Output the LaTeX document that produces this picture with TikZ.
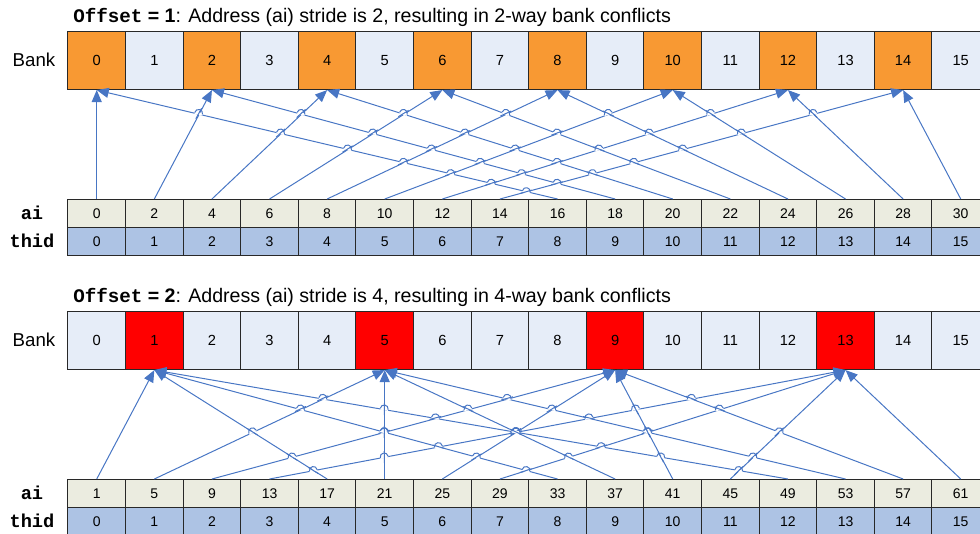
\documentclass[tikz,border=0pt]{standalone}
\usepackage{fontspec}
\setmainfont{Liberation Sans}
\setmonofont{Liberation Mono}
\usetikzlibrary{calc,arrows.meta}
\definecolor{orng}{RGB}{248,153,51}
\definecolor{lblue}{RGB}{230,237,248}
\definecolor{aigray}{RGB}{235,236,224}
\definecolor{thblue}{RGB}{173,195,228}
\definecolor{arrblue}{RGB}{72,118,196}
\definecolor{bordr}{RGB}{40,40,40}
\newcommand{\offsetword}{{\fontsize{14.4}{16}\selectfont\ttfamily\bfseries Offset}}
\begin{document}
\begin{tikzpicture}[x=0.75pt,y=-0.75pt,
  cell/.style={draw=bordr, line width=0.8pt, inner sep=0pt, minimum width=43.2pt, anchor=north west},
  bankcell/.style={cell, minimum height=43.5pt, fill=lblue, font=\fontsize{11}{13}\selectfont},
  aicell/.style={cell, minimum height=21pt, fill=aigray, font=\fontsize{10.5}{12}\selectfont},
  thcell/.style={aicell, fill=thblue},
  rowlabel/.style={font=\fontsize{14}{16}\selectfont\ttfamily\bfseries, inner sep=0pt},
  banklabel/.style={font=\fontsize{14}{16}\selectfont, inner sep=0pt},
  titletext/.style={anchor=base west, inner sep=0pt, font=\fontsize{14.7}{16}\selectfont},
  conn/.style={draw=arrblue, line width=0.75pt},
  arr/.style={conn, -{Triangle[length=9pt,width=7.5pt]}},
  eraser/.style={draw=white, line width=1.8pt}
]
\useasboundingbox (0,0) rectangle (980,533);

% titles
\node[titletext] (title1) at (73,22) {\offsetword\textbf{ = 1}: Address (ai) stride is 2, resulting in 2-way bank conflicts};
\node[titletext] (title2) at (73,302) {\offsetword\textbf{ = 2}: Address (ai) stride is 4, resulting in 4-way bank conflicts};

\foreach \p/\yoff/\mm/\cc/\hc in {1/0/2/0/orng, 2/280/4/1/red} {
  \node[banklabel] (bank\p) at (34,60+\yoff) {Bank};
  \node[rowlabel] (ailab\p) at (32,213+\yoff) {ai};
  \node[rowlabel] (thlab\p) at (32,241+\yoff) {thid};
  \foreach \k in {0,...,15} {
    \pgfmathsetmacro\xx{67.4+57.6*\k}
    \pgfmathtruncatemacro\hit{mod(\k-\cc,\mm)==0 ? 1 : 0}
    \ifnum\hit=1 \def\fc{\hc}\else\def\fc{lblue}\fi
    \pgfmathtruncatemacro\aval{\mm*\k+\cc}
    \node[bankcell, fill=\fc] (b\p-\k) at (\xx,31+\yoff) {\k};
    \node[aicell] (a\p-\k) at (\xx,199+\yoff) {\aval};
    \node[thcell] (t\p-\k) at (\xx,227+\yoff) {\k};
  }
  % connectors
  \foreach \t in {0,...,15} {
    \pgfmathtruncatemacro\bb{mod(\mm*\t+\cc,16)}
    \draw[arr] (a\p-\t.north) -- (b\p-\bb.south);
  }
  % line hops
  \foreach \j in {0,...,15} {
    \foreach \i in {0,...,15} {
      \pgfmathtruncatemacro\bnj{mod(\mm*\j+\cc,16)}
      \pgfmathtruncatemacro\bni{mod(\mm*\i+\cc,16)}
      \pgfmathtruncatemacro\dxj{\bnj-\j}
      \pgfmathtruncatemacro\dxi{\bni-\i}
      \pgfmathtruncatemacro\ok{((abs(\dxj)>abs(\dxi)) || ((abs(\dxj)==abs(\dxi)) && (\j>\i))) && (\dxj!=\dxi) ? 1 : 0}
      \ifnum\ok=1
        \pgfmathsetmacro\sval{(\i-\j)/(\dxj-\dxi)}
        \pgfmathtruncatemacro\ins{(\sval>0.02) && (\sval<0.96) ? 1 : 0}
        \ifnum\ins=1
          \pgfmathsetmacro\px{67.4+57.6*(\j+0.5+\dxj*\sval)}
          \pgfmathsetmacro\py{199+\yoff-110*\sval}
          \pgfmathtruncatemacro\ang{\dxj>0 ? 90 : -90}
          \coordinate (P) at (\px,\py);
          \coordinate (A) at ($(P)!3pt!(a\p-\j.north)$);
          \coordinate (B) at ($(P)!3pt!(b\p-\bnj.south)$);
          \draw[eraser] (A) -- (B);
          \draw[conn] ($(P)!4.5pt!(a\p-\i.north)$) -- ($(P)!4.5pt!(b\p-\bni.south)$);
          \draw[conn] (A) .. controls ($(A)!4pt!\ang:(B)$) and ($(B)!4pt!-\ang:(A)$) .. (B);
        \fi
      \fi
    }
  }
}
\end{tikzpicture}
\end{document}
